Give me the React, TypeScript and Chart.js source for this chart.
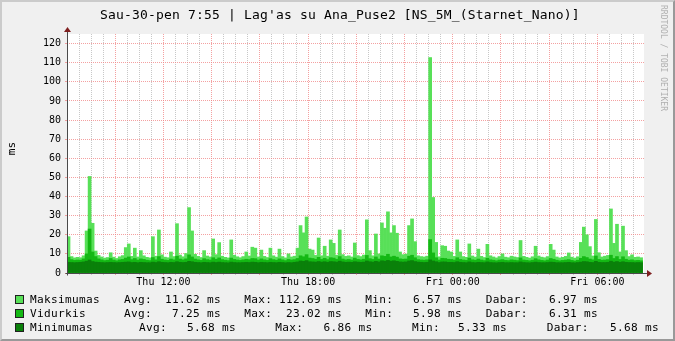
import React, { useEffect, useRef } from "react";
import { Chart, registerables } from "chart.js";

Chart.register(...registerables);

const TITLE = "Sau-30-pen 7:55 | Lag'as su Ana_Puse2 [NS_5M_(Starnet_Nano)]";
const Y_LABEL = "ms";
const CREDIT = "RRDTOOL / TOBI OETIKER";

// time axis in minutes since Thu 08:00
const SAMPLE_STEP_MIN = 7.5;
const X_RANGE_MIN = 1436;
const X_MINOR_STEP = 30;
const X_MAJOR_STEP = 120;
const X_TICK_MINUTES = [240, 600, 960, 1320];
const X_TICK_LABELS = ["Thu 12:00", "Thu 18:00", "Fri 00:00", "Fri 06:00"];

const Y_MAX = 125;
const Y_GRID_TOP = 120;
const Y_MINOR_STEP = 5;
const Y_LABEL_STEP = 10;

const SERIES_NAMES = ["Maksimumas", "Vidurkis", "Minimumas"];
const SERIES_COLORS = ["#58e058", "#14b814", "#0a800a"];

const MAX_VALUES = [
  19, 8.6, 7.9, 8.2, 8.0, 9.0, 22, 50.5, 26, 11.5,
  9.2, 8.4, 7.8, 8.1, 10.6, 8.3, 7.6, 8.5, 9.1, 13.3,
  15.2, 8.7, 13, 8.4, 11.7, 9.0, 8.2, 7.9, 19, 8.8,
  22.5, 9.5, 8.3, 8.0, 11, 8.6, 25.8, 9.4, 8.5, 10.2,
  34.2, 22, 9.8, 8.7, 8.1, 11.7, 8.9, 8.4, 17.8, 9.6,
  15.9, 8.8, 8.2, 7.9, 17.3, 9.3, 8.5, 8.0, 8.6, 11,
  8.9, 13.5, 13, 8.4, 12, 8.7, 8.1, 13, 9.0, 8.3,
  12.5, 8.6, 7.9, 10, 8.4, 8.8, 13, 24.8, 21, 29.3,
  12.5, 12, 9.2, 18.3, 9.0, 14, 8.8, 17.3, 15.5, 9.3,
  22.5, 9.6, 8.7, 9.0, 8.4, 15.7, 9.1, 8.6, 9.4, 27.8,
  11.7, 9.0, 20.4, 10, 26.2, 23.4, 32, 21, 24.8, 20.8,
  11, 9.6, 9.9, 24.8, 28.3, 16.4, 9.0, 8.6, 8.4, 8.8,
  112.69, 39.5, 16, 8.5, 14.3, 14, 11.5, 11, 8.7, 17.3,
  11, 8.6, 8.2, 15.2, 8.9, 8.3, 12.5, 8.7, 8.1, 15,
  9.0, 8.4, 7.9, 8.6, 10, 8.3, 8.0, 8.8, 8.4, 8.1,
  17, 8.7, 8.2, 7.8, 8.5, 14, 8.9, 8.3, 8.0, 8.6,
  15, 12, 8.4, 7.9, 8.2, 8.7, 10.5, 8.3, 7.8, 8.5,
  16, 24, 20, 13.8, 8.9, 28, 10.6, 8.4, 8.8, 9.2,
  33.5, 15.5, 25.5, 11, 24.5, 11.7, 8.6, 9.5, 8.2, 8.4,
  8.0,
];

const AVG_VALUES = [
  8.2, 7.0, 6.6, 6.8, 6.7, 7.4, 10, 23, 11, 8.6,
  7.4, 6.9, 6.5, 6.7, 7.6, 6.8, 6.4, 6.9, 7.1, 7.8,
  8.4, 7.0, 7.6, 6.8, 7.4, 7.1, 6.7, 6.5, 8.1, 6.9,
  8.6, 7.2, 6.8, 6.6, 7.3, 6.9, 8.8, 7.3, 6.9, 7.4,
  9.5, 8.4, 7.3, 6.9, 6.6, 7.5, 7.0, 6.8, 8.0, 7.2,
  7.9, 7.0, 6.7, 6.5, 7.8, 7.1, 6.8, 6.6, 6.9, 7.2,
  7.0, 7.6, 7.5, 6.8, 7.4, 6.9, 6.6, 7.5, 7.0, 6.7,
  7.4, 6.9, 6.5, 7.1, 6.8, 7.0, 7.6, 9.0, 8.5, 9.6,
  7.8, 7.6, 7.2, 8.2, 7.1, 7.7, 7.0, 8.0, 7.8, 7.2,
  8.6, 7.3, 6.9, 7.1, 6.8, 7.8, 7.1, 6.9, 7.2, 9.2,
  7.5, 7.1, 8.4, 7.3, 9.0, 8.7, 9.8, 8.4, 8.8, 8.3,
  7.4, 7.2, 7.3, 8.8, 9.3, 8.0, 7.0, 6.8, 6.7, 6.9,
  17.5, 10.5, 8.0, 6.8, 7.7, 7.6, 7.2, 7.1, 6.8, 8.0,
  7.1, 6.8, 6.6, 7.8, 6.9, 6.7, 7.3, 6.8, 6.5, 7.7,
  6.9, 6.7, 6.4, 6.8, 7.0, 6.6, 6.5, 6.9, 6.7, 6.5,
  7.9, 6.8, 6.6, 6.4, 6.7, 7.5, 6.9, 6.6, 6.4, 6.8,
  7.6, 7.2, 6.7, 6.4, 6.6, 6.8, 7.0, 6.6, 6.3, 6.7,
  7.7, 8.6, 8.1, 7.3, 6.9, 8.9, 7.1, 6.7, 6.8, 7.0,
  9.3, 7.6, 8.6, 7.1, 8.5, 7.2, 6.7, 6.9, 6.5, 6.6,
  6.4,
];

const MIN_VALUES = [
  5.6, 5.5, 5.4, 5.5, 5.6, 5.8, 6.2, 6.8, 6.0, 5.7,
  5.6, 5.5, 5.4, 5.5, 5.6, 5.5, 5.4, 5.5, 5.6, 5.7,
  5.8, 5.5, 5.6, 5.4, 5.6, 5.5, 5.4, 5.4, 5.7, 5.5,
  5.9, 5.6, 5.5, 5.4, 5.6, 5.5, 5.9, 5.6, 5.5, 5.6,
  6.1, 5.9, 5.6, 5.5, 5.4, 5.6, 5.5, 5.4, 5.7, 5.5,
  5.7, 5.5, 5.4, 5.33, 5.7, 5.5, 5.4, 5.4, 5.5, 5.6,
  5.5, 5.7, 5.6, 5.4, 5.6, 5.5, 5.4, 5.6, 5.5, 5.4,
  5.6, 5.5, 5.33, 5.5, 5.4, 5.6, 5.8, 6.3, 6.1, 6.5,
  5.9, 5.8, 5.7, 6.0, 5.7, 5.9, 5.6, 6.0, 5.9, 5.7,
  6.2, 5.8, 5.6, 5.7, 5.6, 5.9, 5.7, 5.6, 5.7, 6.3,
  5.9, 5.7, 6.1, 5.8, 6.4, 6.2, 6.6, 6.2, 6.4, 6.1,
  5.8, 5.7, 5.8, 6.3, 6.5, 6.0, 5.7, 5.6, 5.5, 5.6,
  6.86, 6.3, 5.9, 5.5, 5.8, 5.8, 5.6, 5.6, 5.5, 5.9,
  5.6, 5.5, 5.4, 5.8, 5.5, 5.4, 5.6, 5.5, 5.4, 5.8,
  5.5, 5.4, 5.33, 5.5, 5.6, 5.4, 5.4, 5.5, 5.4, 5.4,
  5.8, 5.5, 5.4, 5.33, 5.5, 5.7, 5.5, 5.4, 5.4, 5.5,
  5.7, 5.6, 5.4, 5.4, 5.4, 5.5, 5.6, 5.4, 5.33, 5.5,
  5.7, 6.0, 5.9, 5.6, 5.5, 6.1, 5.6, 5.5, 5.5, 5.6,
  6.2, 5.7, 6.0, 5.6, 5.9, 5.6, 5.5, 5.5, 5.4, 5.5,
  5.4,
];

const STAT_LABELS = ["Avg:", "Max:", "Min:", "Dabar:"];
const STAT_VALUES = [
  ["11.62 ms", "112.69 ms", "6.57 ms", "6.97 ms"],
  ["7.25 ms", "23.02 ms", "5.98 ms", "6.31 ms"],
  ["5.68 ms", "6.86 ms", "5.33 ms", "5.68 ms"],
];

const MONO = "'DejaVu Sans Mono', monospace";
const GRID_MINOR = "rgba(190,190,190,0.85)";
const GRID_MAJOR = "rgba(240,130,130,0.75)";
const AXIS_COLOR = "#4a4a4a";
const ARROW_COLOR = "#7f1f1f";

const rrdPlugin = {
  id: "rrdFrame",
  beforeDraw(chart: any) {
    const { ctx, chartArea: a } = chart;
    ctx.save();
    ctx.fillStyle = "#ffffff";
    ctx.fillRect(a.left, a.top, a.right - a.left, a.bottom - a.top);
    ctx.restore();
  },
  afterDatasetsDraw(chart: any) {
    const { ctx, chartArea: a } = chart;
    const x0 = Math.floor(a.left) + 0.5;
    const y0 = Math.floor(a.bottom) + 0.5;
    ctx.save();
    ctx.strokeStyle = AXIS_COLOR;
    ctx.lineWidth = 1;
    ctx.beginPath();
    ctx.moveTo(x0, y0 + 2);
    ctx.lineTo(x0, a.top - 4);
    ctx.moveTo(x0 - 2, y0);
    ctx.lineTo(a.right + 4, y0);
    ctx.stroke();
    ctx.fillStyle = ARROW_COLOR;
    ctx.beginPath();
    ctx.moveTo(a.right + 3, y0 - 3.5);
    ctx.lineTo(a.right + 3, y0 + 3.5);
    ctx.lineTo(a.right + 8, y0);
    ctx.closePath();
    ctx.fill();
    ctx.beginPath();
    ctx.moveTo(x0 - 3.5, a.top - 2);
    ctx.lineTo(x0 + 3.5, a.top - 2);
    ctx.lineTo(x0, a.top - 7);
    ctx.closePath();
    ctx.fill();
    ctx.restore();
  },
};

const ROW_BASELINES = [303.6, 317.4, 331.3];
const LABEL_LEFTS = [
  [124, 244.3, 365.3, 485.7],
  [124, 244.3, 365.3, 485.7],
  [139, 275.3, 412, 546.7],
];
const VALUE_RIGHTS = [
  [221, 342, 462, 598],
  [221, 342, 462, 598],
  [236, 372.5, 507, 659],
];

export default function App() {
  const ref = useRef<HTMLCanvasElement>(null);

  useEffect(() => {
    document.body.style.margin = "0";
    const xs = MAX_VALUES.map((_, i) => i * SAMPLE_STEP_MIN + SAMPLE_STEP_MIN / 2);
    const pts = (vals: number[]) => vals.map((y, i) => ({ x: xs[i], y }));
    const xGrid: number[] = [];
    for (let v = 0; v < X_RANGE_MIN; v += X_MINOR_STEP) xGrid.push(v);
    const yGrid: number[] = [];
    for (let v = 0; v <= Y_GRID_TOP; v += Y_MINOR_STEP) yGrid.push(v);

    const chart = new Chart(ref.current as HTMLCanvasElement, {
      type: "bar",
      data: {
        datasets: [
          { label: SERIES_NAMES[2], data: pts(MIN_VALUES), backgroundColor: SERIES_COLORS[2] },
          { label: SERIES_NAMES[1], data: pts(AVG_VALUES), backgroundColor: SERIES_COLORS[1] },
          { label: SERIES_NAMES[0], data: pts(MAX_VALUES), backgroundColor: SERIES_COLORS[0] },
        ],
      } as any,
      options: {
        responsive: false,
        animation: false,
        devicePixelRatio: 1,
        datasets: {
          bar: { grouped: false, barPercentage: 1, categoryPercentage: 1, borderWidth: 0 },
        },
        layout: { padding: { top: 34, right: 31, bottom: 38, left: 0 } },
        plugins: {
          legend: { display: false },
          tooltip: { enabled: false },
          title: { display: false },
        },
        scales: {
          x: {
            type: "linear",
            min: 0,
            max: X_RANGE_MIN,
            offset: false,
            afterBuildTicks: (s: any) => {
              s.ticks = xGrid.map((value) => ({ value }));
            },
            afterFit: (s: any) => {
              s.height = 30;
            },
            ticks: {
              autoSkip: false,
              maxRotation: 0,
              minRotation: 0,
              padding: 1,
              color: "#000",
              font: { family: MONO, size: 10 },
              callback: (v: any) => {
                const k = X_TICK_MINUTES.indexOf(Number(v));
                return k >= 0 ? X_TICK_LABELS[k] : "";
              },
            },
            grid: {
              offset: false,
              color: (c: any) => (c.tick && c.tick.value % X_MAJOR_STEP === 0 ? GRID_MAJOR : GRID_MINOR),
              tickColor: (c: any) => (c.tick && c.tick.value % X_MAJOR_STEP === 0 ? GRID_MAJOR : GRID_MINOR),
              tickLength: 2,
              lineWidth: 1,
            },
            border: { display: false, dash: [1, 1] },
          },
          y: {
            type: "linear",
            min: 0,
            max: Y_MAX,
            afterBuildTicks: (s: any) => {
              s.ticks = yGrid.map((value) => ({ value }));
            },
            afterFit: (s: any) => {
              s.width = 67;
            },
            ticks: {
              padding: 4,
              color: "#000",
              font: { family: MONO, size: 10 },
              callback: (v: any) => (Number(v) % Y_LABEL_STEP === 0 ? String(v) : ""),
            },
            grid: {
              color: (c: any) => (c.tick && c.tick.value % Y_LABEL_STEP === 0 ? GRID_MAJOR : GRID_MINOR),
              tickColor: (c: any) => (c.tick && c.tick.value % Y_LABEL_STEP === 0 ? GRID_MAJOR : GRID_MINOR),
              tickLength: 2,
              lineWidth: 1,
            },
            border: { display: false, dash: [1, 1] },
          },
        },
      } as any,
      plugins: [rrdPlugin],
    });
    return () => chart.destroy();
  }, []);

  const legendText: React.CSSProperties = {
    position: "absolute",
    fontFamily: MONO,
    fontSize: "11.1px",
    letterSpacing: "0.32px",
    lineHeight: "13px",
    whiteSpace: "pre",
    color: "#000",
  };

  return (
    <div
      style={{
        position: "relative",
        width: 675,
        height: 341,
        background: "#f0f0f0",
        overflow: "hidden",
      }}
    >
      <div
        style={{
          position: "absolute",
          left: 0,
          top: 0,
          width: 675,
          height: 341,
          boxSizing: "border-box",
          borderStyle: "solid",
          borderWidth: 2,
          borderColor: "#cbcbcb #999999 #999999 #cbcbcb",
        }}
      />
      <canvas
        ref={ref}
        width={675}
        height={341}
        style={{ position: "absolute", left: 0, top: 0, width: 675, height: 341 }}
      />
      <div
        style={{
          position: "absolute",
          left: 100,
          top: 6.5,
          fontFamily: MONO,
          fontSize: "13px",
          letterSpacing: "0.17px",
          lineHeight: "16px",
          whiteSpace: "pre",
          color: "#000",
        }}
      >
        {TITLE}
      </div>
      <div
        style={{
          position: "absolute",
          left: 668.4,
          top: 5,
          fontFamily: MONO,
          fontSize: "8px",
          lineHeight: "9px",
          whiteSpace: "pre",
          color: "#b0b0b0",
          transformOrigin: "0 0",
          transform: "rotate(90deg)",
        }}
      >
        {CREDIT}
      </div>
      <div
        style={{
          position: "absolute",
          left: 10.8,
          top: 148.8,
          width: 24,
          height: 13,
          marginLeft: -12,
          marginTop: -6.5,
          textAlign: "center",
          fontFamily: MONO,
          fontSize: "11.1px",
          lineHeight: "13px",
          transform: "rotate(-90deg)",
          color: "#000",
        }}
      >
        {Y_LABEL}
      </div>
      {SERIES_NAMES.map((name, r) => {
        const top = ROW_BASELINES[r] - 10.34;
        return (
          <React.Fragment key={name}>
            <div
              style={{
                position: "absolute",
                left: 15,
                top: ROW_BASELINES[r] - 8.6,
                width: 9,
                height: 9,
                boxSizing: "border-box",
                border: "1px solid #202020",
                background: SERIES_COLORS[r],
              }}
            />
            <div style={{ ...legendText, left: 30, top }}>{name}</div>
            {STAT_LABELS.map((lab, c) => (
              <React.Fragment key={lab}>
                <div style={{ ...legendText, left: LABEL_LEFTS[r][c], top }}>{lab}</div>
                <div
                  style={{
                    ...legendText,
                    left: VALUE_RIGHTS[r][c] - 100,
                    width: 100,
                    textAlign: "right",
                    top,
                  }}
                >
                  {STAT_VALUES[r][c]}
                </div>
              </React.Fragment>
            ))}
          </React.Fragment>
        );
      })}
    </div>
  );
}
